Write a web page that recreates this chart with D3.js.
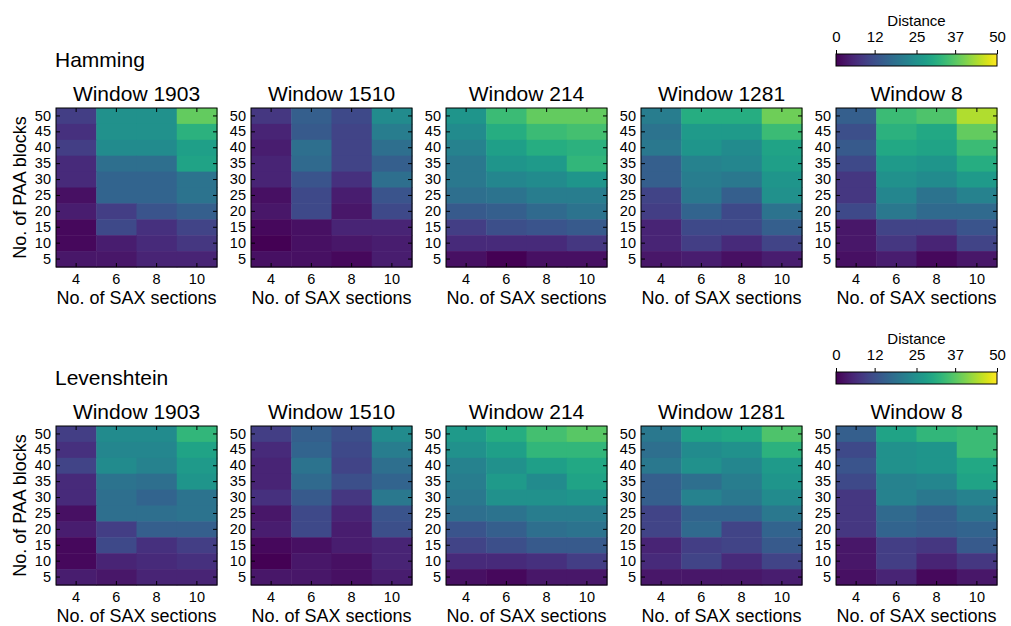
<!DOCTYPE html>
<html>
<head>
<meta charset="utf-8">
<script src="https://cdn.jsdelivr.net/npm/d3@7"></script>
<style>
  html, body { margin: 0; padding: 0; background: #fff; }
  svg { display: block; font-family: Arial, "Liberation Sans", sans-serif; }
</style>
</head>
<body>
<svg id="chart" width="1011" height="626"></svg>
<script>
// Axis categories
const saxSections = [4, 6, 8, 10];
const paaBlocks = [5, 10, 15, 20, 25, 30, 35, 40, 45, 50];
const windows = ["1903", "1510", "214", "1281", "8"];
const metrics = ["Hamming", "Levenshtein"];
const colorTicks = [0, 12, 25, 37, 50];

// Distance per window: rows listed from 50 PAA blocks down to 5, columns SAX 4, 6, 8, 10
const hammingDistances = [
  [[9,25,25,38],[7,25,25,32],[9,24,24,28],[6,18,18,29],[6,16,16,19],[2,16,16,19],[4,9,13,15],[1,11,7,10],[1,4,6,8],[3,3,5,5]],
  [[8,15,11,24],[5,14,10,21],[4,18,10,18],[5,17,10,15],[5,13,7,18],[2,11,4,13],[3,11,3,11],[1,2,5,5],[0,2,3,4],[2,2,1,4]],
  [[26,34,38,38],[24,31,34,35],[22,28,31,32],[20,26,27,33],[20,23,24,26],[18,19,21,21],[14,15,17,19],[9,12,13,14],[6,6,6,8],[2,0,2,2]],
  [[21,31,31,39],[19,27,27,34],[20,26,24,29],[15,22,23,28],[15,21,20,26],[10,20,15,25],[9,16,11,19],[5,11,11,15],[5,9,6,10],[3,4,2,4]],
  [[15,34,36,44],[12,32,30,38],[14,30,29,34],[11,27,26,31],[8,25,24,27],[8,23,19,22],[11,20,17,17],[3,10,10,13],[3,8,5,10],[2,4,1,3]]
];
const levenshteinDistances = [
  [[9,24,24,33],[7,23,23,29],[10,24,22,27],[6,19,18,26],[6,18,16,19],[2,18,18,19],[4,9,15,15],[1,11,7,9],[1,5,6,7],[4,3,5,5]],
  [[9,15,12,24],[6,16,11,21],[5,19,10,18],[5,17,12,16],[7,14,8,20],[3,11,5,13],[4,11,4,12],[1,2,4,5],[0,3,2,5],[3,3,2,4]],
  [[27,31,35,37],[25,28,33,33],[22,25,28,30],[21,27,24,29],[20,25,25,26],[18,19,21,21],[13,15,18,19],[10,12,14,14],[6,6,7,9],[2,1,3,3]],
  [[20,29,30,36],[18,24,25,32],[20,25,23,27],[15,18,21,26],[15,22,20,24],[10,16,16,20],[10,17,10,16],[5,9,10,14],[6,10,6,10],[3,3,3,4]],
  [[15,29,33,34],[11,25,26,34],[13,25,26,30],[11,22,23,29],[8,22,20,22],[8,17,15,19],[8,16,15,16],[3,9,8,14],[3,9,5,8],[2,5,1,3]]
];
const metricData = [hammingDistances, levenshteinDistances];

const svg = d3.select("#chart");
const panelW = 161, panelH = 159;
const panelLeft = [56, 251, 446, 641, 836];
const rowTop = [108, 426];
const fontFamily = "Arial, 'Liberation Sans', sans-serif";
const color = d3.scaleSequential(d3.interpolateViridis).domain([0, 50]);

const x = d3.scaleBand().domain(saxSections).range([0, panelW]);
const y = d3.scaleBand().domain(paaBlocks.slice().reverse()).range([0, panelH]);
const tickLen = 4;

metrics.forEach((metric, r) => {
  const top = rowTop[r];

  svg.append("text")
    .attr("x", panelLeft[0] - 1).attr("y", top - 41)
    .attr("font-size", 21).text(metric);

  windows.forEach((w, c) => {
    const left = panelLeft[c];
    const g = svg.append("g").attr("transform", `translate(${left},${top})`);
    const grid = metricData[r][c];
    const cells = [];
    grid.forEach((row, i) => {
      const paa = paaBlocks[paaBlocks.length - 1 - i];
      row.forEach((v, j) => cells.push({ sax: saxSections[j], paa, v }));
    });

    g.selectAll("rect.cell").data(cells).join("rect")
      .attr("class", "cell")
      .attr("x", d => x(d.sax)).attr("y", d => y(d.paa))
      .attr("width", x.bandwidth() + 0.5).attr("height", y.bandwidth() + 0.5)
      .attr("fill", d => color(d.v));

    // axes with inward ticks on all four sides
    g.append("g").attr("transform", `translate(0,${panelH})`)
      .call(d3.axisBottom(x).tickSizeInner(-tickLen).tickSizeOuter(0).tickPadding(7));
    g.append("g")
      .call(d3.axisLeft(y).tickSizeInner(-tickLen).tickSizeOuter(0).tickPadding(5));
    g.append("g").call(d3.axisTop(x).tickSizeInner(-tickLen).tickSizeOuter(0).tickFormat(""));
    g.append("g").attr("transform", `translate(${panelW},0)`)
      .call(d3.axisRight(y).tickSizeInner(-tickLen).tickSizeOuter(0).tickFormat(""));
    g.selectAll(".domain").remove();
    g.selectAll(".tick line").attr("stroke", "#000").attr("stroke-width", 1);
    g.selectAll(".tick text").attr("font-size", 14.5).attr("fill", "#000")
      .attr("font-family", fontFamily);

    g.append("rect").attr("x", 0).attr("y", 0)
      .attr("width", panelW).attr("height", panelH)
      .attr("fill", "none").attr("stroke", "#000").attr("stroke-width", 1);

    g.append("text").attr("x", panelW / 2).attr("y", -7)
      .attr("text-anchor", "middle").attr("font-size", 21).text("Window " + w);

    g.append("text").attr("x", panelW / 2).attr("y", panelH + 37)
      .attr("text-anchor", "middle").attr("font-size", 18).text("No. of SAX sections");

    if (c === 0) {
      g.append("text")
        .attr("transform", `translate(${-30},${panelH / 2}) rotate(-90)`)
        .attr("text-anchor", "middle").attr("font-size", 18).text("No. of PAA blocks");
    }
  });

  // colorbar above the last panel
  const cbLeft = panelLeft[4], cbTop = top - 54, cbW = panelW, cbH = 12;
  const gradId = "viridis-" + r;
  const grad = svg.append("defs").append("linearGradient").attr("id", gradId)
    .attr("x1", "0%").attr("x2", "100%");
  d3.range(0, 1.0001, 0.05).forEach(t => {
    grad.append("stop").attr("offset", (t * 100) + "%").attr("stop-color", d3.interpolateViridis(t));
  });
  const cb = svg.append("g").attr("transform", `translate(${cbLeft},${cbTop})`);
  cb.append("rect").attr("width", cbW).attr("height", cbH).attr("fill", `url(#${gradId})`)
    .attr("stroke", "#000").attr("stroke-width", 1);
  const cbScale = d3.scaleLinear().domain([0, 50]).range([0, cbW]);
  const cbAxis = cb.append("g")
    .call(d3.axisTop(cbScale).tickValues(colorTicks).tickFormat(d3.format("d")).tickSize(4).tickPadding(8));
  cbAxis.select(".domain").remove();
  cbAxis.selectAll(".tick line").attr("stroke", "#000");
  cbAxis.selectAll(".tick text").attr("font-size", 15).attr("fill", "#000")
    .attr("font-family", fontFamily);
  cb.append("text").attr("x", cbW / 2).attr("y", -28)
    .attr("text-anchor", "middle").attr("font-size", 15).text("Distance");
});
</script>
</body>
</html>
